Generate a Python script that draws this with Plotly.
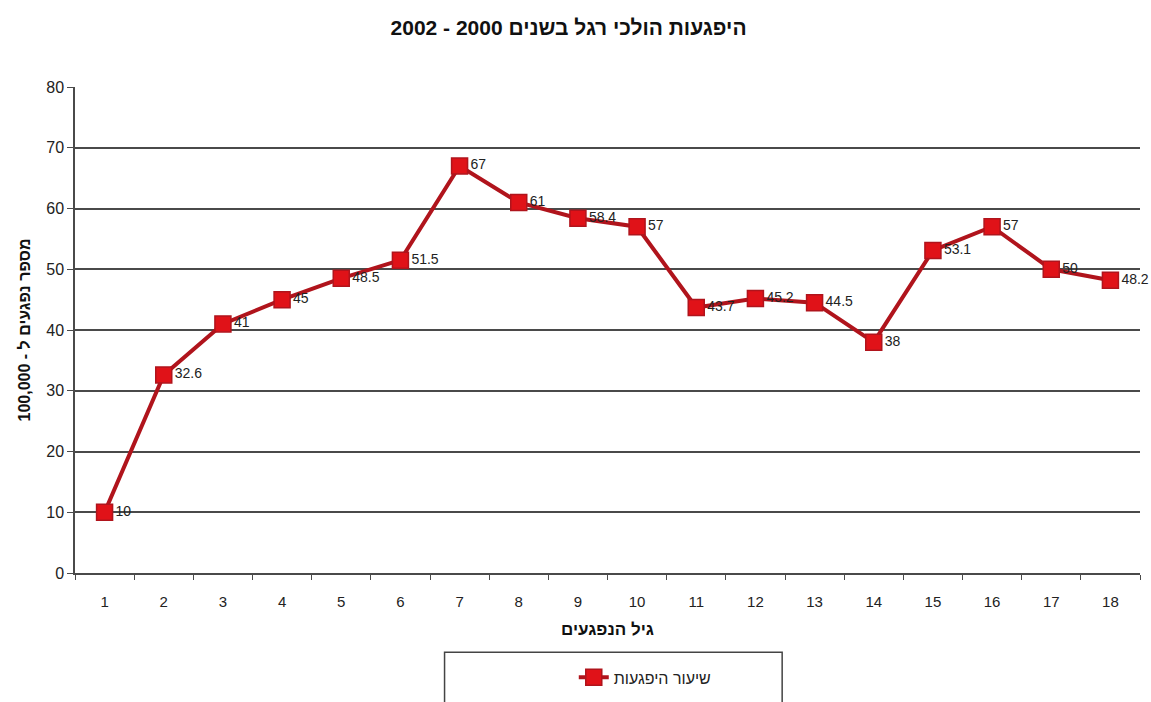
import plotly.graph_objects as go

# Injury rate per 100,000 by age of injured pedestrian, 2000-2002
ages = list(range(1, 19))
rates = [10, 32.6, 41, 45, 48.5, 51.5, 67, 61, 58.4, 57,
         43.7, 45.2, 44.5, 38, 53.1, 57, 50, 48.2]
labels = [f"{v:g}" for v in rates]

title_text = "היפגעות הולכי רגל בשנים 2000 - 2002"
x_title = "גיל הנפגעים"
y_title = "מספר נפגעים ל - 100,000"
series_name = "שיעור היפגעות"

FONT = "Liberation Sans, Arial, sans-serif"
RED = "#e01218"
DARK_RED = "#b0141c"
GRID = "#4a4a4a"

fig = go.Figure()
fig.add_trace(go.Scatter(
    x=ages, y=rates, mode="lines+markers+text",
    name=series_name,
    text=labels, textposition="middle right",
    textfont=dict(family=FONT, size=14, color="#222222"),
    line=dict(color=DARK_RED, width=4),
    marker=dict(symbol="square", size=16, color=RED,
                line=dict(color=DARK_RED, width=1.5)),
    cliponaxis=False,
))

fig.update_layout(
    width=1151, height=702,
    paper_bgcolor="white", plot_bgcolor="white",
    margin=dict(l=75, r=11, t=87, b=129, autoexpand=False),
    font=dict(family=FONT, size=14, color="#222222"),
    title=dict(text=f"<b>{title_text}</b>", x=0.494, xanchor="center",
               y=0.96, yanchor="middle",
               font=dict(family=FONT, size=21, color="#111111")),
    showlegend=True,
    legend=dict(orientation="h", x=0.535, xanchor="center",
                yref="container", y=0.035, yanchor="middle",
                font=dict(family=FONT, size=16, color="#222222"),
                bgcolor="rgba(0,0,0,0)", borderwidth=0),
    shapes=[dict(type="rect", xref="paper", yref="paper",
                 x0=0.347, x1=0.664, y0=-0.163, y1=-0.30,
                 line=dict(color="#444444", width=1.5),
                 fillcolor="rgba(0,0,0,0)")],
)

fig.update_xaxes(
    range=[0.5, 18.5], tickmode="linear", tick0=1, dtick=1,
    ticks="", showgrid=False, zeroline=False, automargin=False,
    showline=True, linecolor=GRID, linewidth=1.5,
    tickfont=dict(family=FONT, size=15, color="#222222"),
    ticklabelstandoff=14,
    minor=dict(tick0=0.5, dtick=1, ticks="outside", ticklen=5,
               tickcolor=GRID, tickwidth=1, showgrid=False),
    title=dict(text=f"<b>{x_title}</b>", standoff=14,
               font=dict(family=FONT, size=17, color="#111111")),
)

fig.update_yaxes(
    range=[0, 80], tickmode="linear", tick0=0, dtick=10,
    ticks="outside", ticklen=6, tickcolor=GRID,
    showgrid=True, gridcolor=GRID, gridwidth=1.5,
    zeroline=False, showline=True, linecolor=GRID, linewidth=1.5,
    automargin=False,
    tickfont=dict(family=FONT, size=16, color="#222222"),
    title=dict(text=f"<b>{y_title}</b>", standoff=12,
               font=dict(family=FONT, size=16, color="#111111")),
)

fig.write_html("out.html")
